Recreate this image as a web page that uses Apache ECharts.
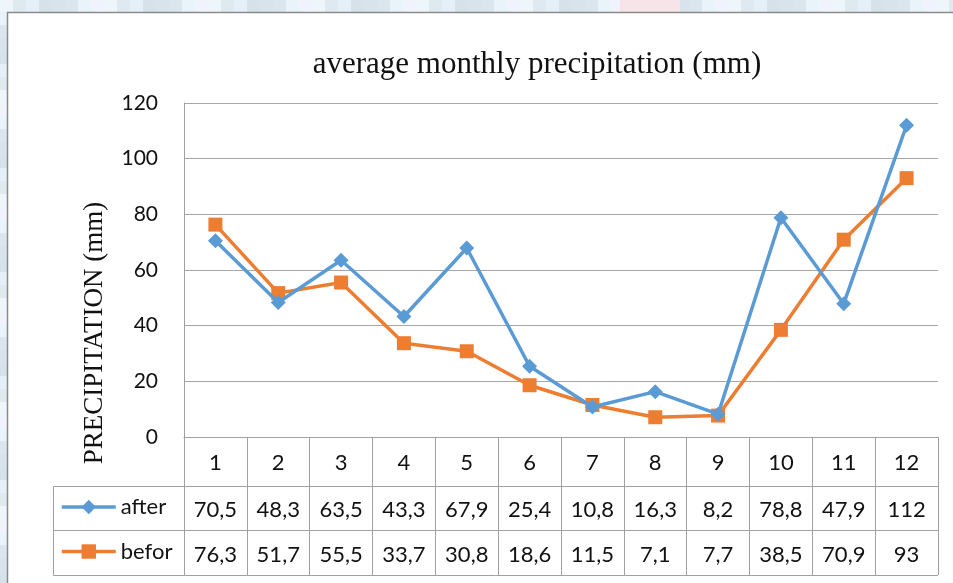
<!DOCTYPE html>
<html>
<head>
<meta charset="utf-8">
<script src="https://cdn.jsdelivr.net/npm/echarts@6/dist/echarts.min.js"></script>
<style>
  html, body { margin: 0; padding: 0; background: #e4eef4; }
  #chart { width: 953px; height: 583px; }
</style>
</head>
<body>
<div id="chart"></div>
<script>
// Monthly precipitation (mm), two periods
const months = ['1', '2', '3', '4', '5', '6', '7', '8', '9', '10', '11', '12'];
const afterValues = [70.5, 48.3, 63.5, 43.3, 67.9, 25.4, 10.8, 16.3, 8.2, 78.8, 47.9, 112];
const beforValues = [76.3, 51.7, 55.5, 33.7, 30.8, 18.6, 11.5, 7.1, 7.7, 38.5, 70.9, 93];
const yTicks = { min: 0, max: 120, interval: 20 };
const seriesNames = ['after', 'befor'];

const BLUE = '#5b9bd5';
const ORANGE = '#ed7d31';
const GRID_LINE = '#a6a6a6';
const TABLE_LINE = '#a0a0a0';
const TEXT = '#111111';
const SANS = 'Lato, "Open Sans", sans-serif';
const SERIF = '"Liberation Serif", "DejaVu Serif", serif';

// plot area geometry
const G = { left: 184, right: 15, top: 103, bottom: 146 };
const W = 953, H = 583;
const axisY = H - G.bottom;        // bottom of the plot (value 0)
const rowHead = 49, rowA = 44, rowB = 45;
const tableLeft = 53;
const gridRight = W - G.right;

// decimal comma, as in the data table
const fmt = v => String(v).replace('.', ',');

// soft tiled backdrop around the chart frame
const tileColors = ['#dfe9f0', '#e9f3fa', '#d6e2ea', '#eef5fb', '#dbe5ee', '#e4effa', '#f0f3fb', '#d9e3ec'];
const backdrop = [];
for (let i = 0; i < 74; i++) {
  backdrop.push({
    type: 'rect', silent: true, z: -10,
    shape: { x: i * 13, y: 0, width: 13, height: 12 },
    style: { fill: tileColors[(i * 5 + 3) % tileColors.length] }
  });
}
for (let j = 0; j < 45; j++) {
  backdrop.push({
    type: 'rect', silent: true, z: -10,
    shape: { x: 0, y: 12 + j * 13, width: 7, height: 13 },
    style: { fill: tileColors[(j * 3 + 1) % tileColors.length] }
  });
}
backdrop.push({
  type: 'rect', silent: true, z: -10,
  shape: { x: 620, y: 0, width: 60, height: 12 },
  style: { fill: '#f7e4e8' }
});

const chart = echarts.init(document.getElementById('chart'), null, { renderer: 'canvas' });

const tableXAxis = (values, offset, tickLen, margin) => ({
  type: 'category',
  data: months,
  position: 'bottom',
  offset: offset,
  boundaryGap: true,
  axisLine: { show: true, lineStyle: { color: TABLE_LINE, width: 1 } },
  axisTick: { show: true, length: tickLen, interval: 0, lineStyle: { color: TABLE_LINE, width: 1 } },
  axisLabel: {
    interval: 0, margin: margin, color: TEXT, fontFamily: SANS, fontSize: 22,
    formatter: (v, i) => fmt(values[i])
  },
  splitLine: { show: false }
});

const legendCell = (name, centerY) => ({
  data: [name], left: 60, top: centerY - 11, padding: 0,
  itemWidth: 54, itemHeight: 18, itemGap: 4,
  lineStyle: { width: 3.5 },
  textStyle: { fontFamily: SANS, fontSize: 22, color: TEXT, padding: [0, 0, 0, 0] }
});

chart.setOption({
  animation: false,
  backgroundColor: 'transparent',
  title: {
    text: 'average monthly precipitation (mm)',
    left: 532, top: 44, textAlign: 'center',
    textStyle: { fontFamily: SERIF, fontWeight: 'normal', fontSize: 31, color: TEXT }
  },
  legend: [
    legendCell(seriesNames[0], axisY + rowHead + rowA / 2 - 1),
    legendCell(seriesNames[1], axisY + rowHead + rowA + rowB / 2 - 1)
  ],
  grid: {
    left: G.left, right: G.right, top: G.top, bottom: G.bottom,
    containLabel: false, outerBoundsMode: 'none'
  },
  xAxis: [
    {
      type: 'category',
      data: months,
      position: 'bottom',
      boundaryGap: true,
      axisLine: { show: true, lineStyle: { color: TABLE_LINE, width: 1 } },
      axisTick: { show: true, length: rowHead, interval: 0, lineStyle: { color: TABLE_LINE, width: 1 } },
      axisLabel: { interval: 0, margin: 15, color: TEXT, fontFamily: SANS, fontSize: 22 },
      splitLine: { show: false }
    },
    tableXAxis(afterValues, rowHead, rowA, 13),
    tableXAxis(beforValues, rowHead + rowA, rowB, 14)
  ],
  yAxis: {
    type: 'value',
    min: yTicks.min, max: yTicks.max, interval: yTicks.interval,
    axisLine: { show: true, lineStyle: { color: TABLE_LINE, width: 1 } },
    axisTick: { show: false },
    axisLabel: { margin: 26, color: TEXT, fontFamily: SANS, fontSize: 21 },
    splitLine: { show: true, lineStyle: { color: GRID_LINE, width: 1 } }
  },
  series: [
    {
      name: seriesNames[0], type: 'line', data: afterValues,
      xAxisIndex: 0, yAxisIndex: 0,
      symbol: 'diamond', symbolSize: 15, z: 3,
      lineStyle: { color: BLUE, width: 3.5 },
      itemStyle: { color: BLUE, borderWidth: 0 }
    },
    {
      name: seriesNames[1], type: 'line', data: beforValues,
      xAxisIndex: 0, yAxisIndex: 0,
      symbol: 'rect', symbolSize: 14, z: 2,
      lineStyle: { color: ORANGE, width: 3.5 },
      itemStyle: { color: ORANGE, borderWidth: 0 }
    }
  ],
  graphic: backdrop.concat([
    // chart frame
    {
      type: 'rect', silent: true, z: -5,
      shape: { x: 7.5, y: 12.5, width: W, height: H },
      style: { fill: '#ffffff', stroke: '#8a8a8a', lineWidth: 1.5 }
    },
    // vertical axis title
    {
      type: 'text', silent: true,
      x: 95, y: 333, rotation: Math.PI / 2,
      style: {
        text: 'PRECIPITATION (mm)', fontFamily: SERIF, fontSize: 27, fill: TEXT,
        align: 'center', verticalAlign: 'middle'
      }
    },
    // legend cells of the data table
    {
      type: 'polyline', silent: true,
      shape: { points: [[G.left, axisY + rowHead + 0.5], [tableLeft + 0.5, axisY + rowHead + 0.5],
                        [tableLeft + 0.5, axisY + rowHead + rowA + rowB + 0.5], [gridRight, axisY + rowHead + rowA + rowB + 0.5]] },
      style: { stroke: TABLE_LINE, lineWidth: 1, fill: null }
    },
    {
      type: 'line', silent: true,
      shape: { x1: tableLeft, y1: axisY + rowHead + rowA + 0.5, x2: G.left, y2: axisY + rowHead + rowA + 0.5 },
      style: { stroke: TABLE_LINE, lineWidth: 1 }
    }
  ])
});
</script>
</body>
</html>
